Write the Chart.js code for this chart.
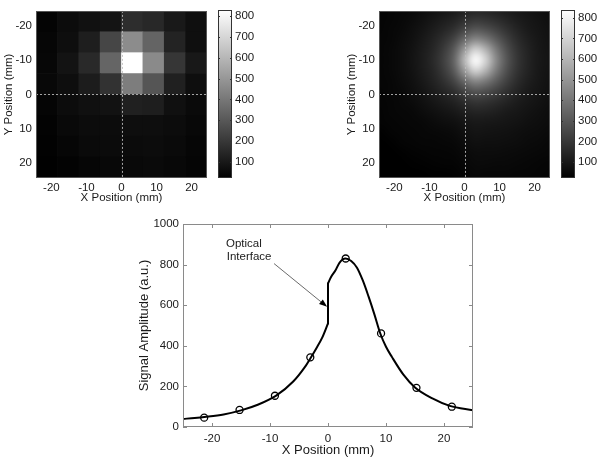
<!DOCTYPE html>
<html lang="en">
<head>
<meta charset="UTF-8">
<title>Signal amplitude maps</title>
<script src="https://cdn.jsdelivr.net/npm/chart.js"></script>
<style>
  body { margin: 0; background: #fff; }
  #wrap { position: relative; width: 600px; height: 460px; overflow: hidden; }
  canvas { position: absolute; }
</style>
</head>
<body>
<div id="wrap">
  <canvas id="mapA" width="212" height="206" style="left:0;top:0"></canvas>
  <canvas id="barA" width="50" height="206" style="left:210px;top:0"></canvas>
  <canvas id="mapB" width="212" height="206" style="left:343px;top:0"></canvas>
  <canvas id="barB" width="47" height="206" style="left:553px;top:0"></canvas>
  <canvas id="profile" width="380" height="248" style="left:100px;top:212px"></canvas>
</div>
<script>
// ---- data ----
// measured 8x8 map (left), rows top->bottom, cells centred on cellCentres (mm)
const cellCentres = [-21.35, -15.25, -9.15, -3.05, 3.05, 9.15, 15.25, 21.35];
const cellHalf = 3.05;
const measured = [
  [36, 61, 77, 86, 165, 150, 102, 70],
  [42, 67, 118, 245, 466, 340, 134, 70],
  [46, 84, 154, 343, 830, 461, 193, 100],
  [48, 67, 112, 181, 419, 292, 124, 67],
  [39, 61, 74, 80, 124, 118, 74, 55],
  [33, 52, 61, 61, 67, 67, 61, 48],
  [29, 42, 55, 58, 58, 61, 55, 42],
  [26, 33, 42, 48, 52, 55, 48, 39]
];
const profileRow = 2; // the row plotted as circles below

// model map (right), sampled every 3 mm
const modelX = [-24, -21, -18, -15, -12, -9, -6, -3, 0, 3, 6, 9, 12, 15, 18, 21, 24];
const modelY = [-25, -22, -19, -16, -13, -10, -7, -4, -1, 2, 5, 8, 11, 14, 17, 20, 23, 26];
const model = [
  [36, 40, 43, 49, 60, 73, 86, 99, 121, 137, 133, 122, 106, 94, 84, 74, 65],
  [38, 42, 47, 58, 73, 91, 112, 130, 165, 194, 185, 163, 137, 112, 94, 82, 71],
  [39, 44, 52, 66, 86, 112, 141, 176, 243, 296, 276, 230, 178, 137, 106, 89, 77],
  [40, 45, 57, 74, 99, 130, 176, 242, 364, 462, 417, 320, 230, 163, 122, 95, 81],
  [41, 47, 60, 80, 109, 144, 209, 311, 518, 705, 600, 417, 276, 185, 133, 100, 84],
  [42, 47, 61, 82, 112, 152, 224, 342, 612, 835, 705, 462, 296, 194, 137, 101, 85],
  [41, 47, 60, 80, 109, 144, 209, 311, 518, 705, 600, 417, 276, 185, 133, 100, 84],
  [40, 45, 57, 74, 99, 130, 176, 242, 364, 462, 417, 320, 230, 163, 122, 95, 81],
  [39, 44, 52, 66, 86, 112, 141, 176, 243, 296, 276, 230, 178, 137, 106, 89, 77],
  [38, 42, 47, 58, 73, 91, 112, 130, 165, 194, 185, 163, 137, 112, 94, 82, 71],
  [36, 40, 43, 49, 60, 73, 86, 99, 121, 137, 133, 122, 106, 94, 84, 74, 65],
  [34, 37, 40, 44, 49, 58, 66, 74, 90, 101, 100, 95, 89, 82, 74, 66, 59],
  [24, 34, 37, 40, 43, 47, 52, 57, 72, 85, 84, 81, 77, 71, 65, 59, 54],
  [23, 25, 34, 37, 40, 42, 44, 46, 59, 72, 71, 69, 66, 62, 57, 53, 48],
  [22, 23, 24, 33, 36, 38, 39, 40, 51, 61, 60, 59, 57, 54, 51, 47, 44],
  [22, 22, 23, 24, 28, 33, 35, 36, 45, 53, 53, 51, 50, 48, 45, 42, 39],
  [22, 22, 22, 23, 23, 24, 25, 28, 38, 46, 45, 45, 43, 42, 40, 38, 36],
  [22, 22, 22, 22, 22, 22, 23, 23, 35, 40, 40, 39, 38, 37, 36, 34, 32]
];

// model profile (bottom), split at the optical interface x = 0
const leftX = [-25, -23, -21, -18, -15, -12, -9, -6, -4, -3, -2, -1, 0];
const leftAmp = [40, 44, 50, 62, 82, 111, 153, 224, 295, 340, 388, 440, 510];
const rightX = [0, 0.5, 1.3, 2, 3, 4, 5, 6, 7, 8, 9, 10, 11, 13, 15, 18, 21, 25];
const rightAmp = [707, 738, 772, 810, 830, 818, 785, 722, 642, 555, 462, 395, 346, 258, 195, 141, 104, 82];

// axes
const posLimit = 24.4;
const posTicks = [-20, -10, 0, 10, 20];
const rangeA = [23, 830];
const rangeB = [22, 838];
const barTicks = [100, 200, 300, 400, 500, 600, 700, 800];
const profXRange = [-25, 25];
const ampTicks = [0, 200, 400, 600, 800, 1000];

const noteLines = ['Optical', 'Interface'];
const noteAt = [[-14.5, 902], [-13.6, 836]];
const arrowFrom = [-9.3, 805];
const arrowTo = [-0.15, 592];

// ---- helpers ----
Chart.defaults.font.family = '"Liberation Sans", Arial, Helvetica, sans-serif';
Chart.defaults.color = '#1a1a1a';
Chart.defaults.animation = false;
Chart.defaults.plugins.legend.display = false;
Chart.defaults.plugins.tooltip.enabled = false;

const plainLabel = v => String(v);
const noGrid = { display: false, drawTicks: false };

function greyLevel(v, lo, hi) {
  return Math.round(255 * Math.min(1, Math.max(0, (v - lo) / (hi - lo))));
}
function grey(v, lo, hi) {
  const g = greyLevel(v, lo, hi);
  return `rgb(${g},${g},${g})`;
}
function fixedTicks(values) {
  return scale => { scale.ticks = values.map(v => ({ value: v })); };
}

// box round the plot, inward ticks, dotted zero lines
const framePlugin = {
  id: 'frame',
  afterDatasetsDraw(chart, args, o) {
    const { ctx, chartArea: a, scales } = chart;
    ctx.save();
    ctx.lineWidth = 1;
    if (o.zero) {
      ctx.strokeStyle = o.zero;
      ctx.setLineDash([2, 2]);
      const px = Math.round(scales.x.getPixelForValue(0)) + 0.5;
      const py = Math.round(scales.y.getPixelForValue(0)) + 0.5;
      ctx.beginPath();
      ctx.moveTo(px, a.top); ctx.lineTo(px, a.bottom);
      ctx.moveTo(a.left, py); ctx.lineTo(a.right, py);
      ctx.stroke();
      ctx.setLineDash([]);
    }
    ctx.strokeStyle = o.color || '#000';
    if (o.tick) {
      ctx.beginPath();
      (o.tickAxes || ['x', 'y']).forEach(id => {
        const s = scales[id];
        s.ticks.forEach(t => {
          const p = Math.round(s.getPixelForValue(t.value)) + 0.5;
          if (id === 'x') {
            ctx.moveTo(p, a.bottom); ctx.lineTo(p, a.bottom - o.tick);
            ctx.moveTo(p, a.top); ctx.lineTo(p, a.top + o.tick);
          } else {
            ctx.moveTo(a.left, p); ctx.lineTo(a.left + o.tick, p);
            ctx.moveTo(a.right, p); ctx.lineTo(a.right - o.tick, p);
          }
        });
      });
      ctx.stroke();
    }
    ctx.strokeRect(Math.round(a.left) + 0.5, Math.round(a.top) + 0.5,
      Math.round(a.width) - 1, Math.round(a.height) - 1);
    ctx.restore();
  }
};

// smooth grey image of the model map, placed through the scales
const fieldPlugin = {
  id: 'field',
  beforeDatasetsDraw(chart) {
    const { ctx, chartArea: a, scales: { x, y } } = chart;
    const nx = modelX.length, ny = modelY.length;
    const off = document.createElement('canvas');
    off.width = nx; off.height = ny;
    const oc = off.getContext('2d');
    const img = oc.createImageData(nx, ny);
    model.forEach((row, j) => row.forEach((v, i) => {
      const g = greyLevel(v, rangeB[0], rangeB[1]);
      const k = (j * nx + i) * 4;
      img.data[k] = img.data[k + 1] = img.data[k + 2] = g;
      img.data[k + 3] = 255;
    }));
    oc.putImageData(img, 0, 0);
    const hx = (modelX[1] - modelX[0]) / 2, hy = (modelY[1] - modelY[0]) / 2;
    const x0 = x.getPixelForValue(modelX[0] - hx), x1 = x.getPixelForValue(modelX[nx - 1] + hx);
    const y0 = y.getPixelForValue(modelY[0] - hy), y1 = y.getPixelForValue(modelY[ny - 1] + hy);
    ctx.save();
    ctx.beginPath();
    ctx.rect(a.left, a.top, a.width, a.height);
    ctx.clip();
    ctx.imageSmoothingEnabled = true;
    ctx.imageSmoothingQuality = 'high';
    ctx.drawImage(off, x0, y0, x1 - x0, y1 - y0);
    ctx.restore();
  }
};

// "Optical Interface" label and arrow
const notePlugin = {
  id: 'note',
  afterDatasetsDraw(chart) {
    const { ctx, scales: { x, y } } = chart;
    ctx.save();
    ctx.font = '11.5px "Liberation Sans", Arial, sans-serif';
    ctx.fillStyle = '#1a1a1a';
    ctx.textAlign = 'center';
    ctx.textBaseline = 'middle';
    noteLines.forEach((t, i) => ctx.fillText(t, x.getPixelForValue(noteAt[i][0]), y.getPixelForValue(noteAt[i][1])));
    const ax = x.getPixelForValue(arrowFrom[0]), ay = y.getPixelForValue(arrowFrom[1]);
    const bx = x.getPixelForValue(arrowTo[0]), by = y.getPixelForValue(arrowTo[1]);
    const ang = Math.atan2(by - ay, bx - ax);
    const len = 8, w = 3;
    ctx.strokeStyle = '#444';
    ctx.lineWidth = 0.8;
    ctx.beginPath();
    ctx.moveTo(ax, ay);
    ctx.lineTo(bx - Math.cos(ang) * len, by - Math.sin(ang) * len);
    ctx.stroke();
    ctx.fillStyle = '#000';
    ctx.beginPath();
    ctx.moveTo(bx, by);
    ctx.lineTo(bx - Math.cos(ang) * len - Math.sin(ang) * w, by - Math.sin(ang) * len + Math.cos(ang) * w);
    ctx.lineTo(bx - Math.cos(ang) * len + Math.sin(ang) * w, by - Math.sin(ang) * len - Math.cos(ang) * w);
    ctx.closePath();
    ctx.fill();
    ctx.restore();
  }
};

function mapScales() {
  const tickFont = { size: 11.5 };
  return {
    x: {
      type: 'linear', min: -posLimit, max: posLimit, offset: false,
      border: { display: false }, grid: noGrid,
      ticks: { font: tickFont, padding: 3, maxRotation: 0, callback: plainLabel },
      afterBuildTicks: fixedTicks(posTicks),
      afterFit: s => { s.height = 28; },
      title: { display: true, text: 'X Position (mm)', font: tickFont, padding: { top: 0, bottom: 1 } }
    },
    y: {
      type: 'linear', reverse: true, min: -posLimit, max: posLimit,
      border: { display: false }, grid: noGrid,
      ticks: { font: tickFont, padding: 4, callback: plainLabel },
      afterBuildTicks: fixedTicks(posTicks),
      afterFit: s => { s.width = 36; },
      title: { display: true, text: 'Y Position (mm)', font: tickFont, padding: { top: 1.5, bottom: 0 } }
    }
  };
}

function colourBar(id, range, axisWidth) {
  return new Chart(id, {
    type: 'bar',
    data: {
      labels: [''],
      datasets: [{
        data: [range],
        borderWidth: 0,
        categoryPercentage: 1,
        barPercentage: 1,
        backgroundColor: c => {
          const a = c.chart.chartArea;
          if (!a) return '#000';
          const g = c.chart.ctx.createLinearGradient(0, a.bottom, 0, a.top);
          g.addColorStop(0, '#000');
          g.addColorStop(1, '#fff');
          return g;
        }
      }]
    },
    options: {
      responsive: false,
      layout: { padding: { left: 8, top: 7, bottom: 28, right: 0 } },
      scales: {
        x: { display: false },
        y: {
          position: 'right', min: range[0], max: range[1],
          border: { display: false }, grid: noGrid,
          ticks: { font: { size: 11.5 }, padding: 3, callback: plainLabel },
          afterBuildTicks: fixedTicks(barTicks),
          afterFit: s => { s.width = axisWidth; }
        }
      },
      plugins: { frame: { color: '#333', tick: 2, tickAxes: ['y'] } }
    },
    plugins: [framePlugin]
  });
}

// ---- measured map ----
const cells = [], cellColours = [];
measured.forEach((row, j) => row.forEach((v, i) => {
  cells.push({ x: cellCentres[i], y: [cellCentres[j] - cellHalf, cellCentres[j] + cellHalf] });
  cellColours.push(grey(v, rangeA[0], rangeA[1]));
}));

new Chart('mapA', {
  type: 'bar',
  data: {
    datasets: [{
      data: cells,
      backgroundColor: cellColours,
      borderWidth: 0,
      categoryPercentage: 1,
      barPercentage: 1
    }]
  },
  options: {
    responsive: false,
    layout: { padding: { left: 0, top: 7, right: 5, bottom: 0 } },
    scales: mapScales(),
    plugins: { frame: { color: '#555', zero: 'rgba(190,190,190,0.85)' } }
  },
  plugins: [framePlugin]
});
colourBar('barA', rangeA, 28);

// ---- model map ----
new Chart('mapB', {
  type: 'scatter',
  data: { datasets: [] },
  options: {
    responsive: false,
    layout: { padding: { left: 0, top: 7, right: 5, bottom: 0 } },
    scales: mapScales(),
    plugins: { frame: { color: '#555', zero: 'rgba(190,190,190,0.85)' } }
  },
  plugins: [fieldPlugin, framePlugin]
});
colourBar('barB', rangeB, 25);

// ---- profile ----
const lineStyle = {
  showLine: true, borderColor: '#000', borderWidth: 2, pointRadius: 0,
  borderCapStyle: 'round', borderJoinStyle: 'round'
};
new Chart('profile', {
  type: 'scatter',
  data: {
    datasets: [
      Object.assign({ data: leftX.map((x, i) => ({ x, y: leftAmp[i] })), cubicInterpolationMode: 'monotone' }, lineStyle),
      Object.assign({ data: [{ x: 0, y: leftAmp[leftAmp.length - 1] }, { x: 0, y: rightAmp[0] }] }, lineStyle),
      Object.assign({ data: rightX.map((x, i) => ({ x, y: rightAmp[i] })), cubicInterpolationMode: 'monotone' }, lineStyle),
      {
        data: cellCentres.map((x, i) => ({ x, y: measured[profileRow][i] })),
        showLine: false, pointRadius: 3.5, pointBorderWidth: 1.3,
        pointBorderColor: '#000', pointBackgroundColor: 'rgba(0,0,0,0)'
      }
    ]
  },
  options: {
    responsive: false,
    layout: { padding: { left: 0, top: 12, right: 7, bottom: 0 } },
    scales: {
      x: {
        type: 'linear', min: profXRange[0], max: profXRange[1],
        border: { display: false }, grid: noGrid,
        ticks: { font: { size: 11.5 }, padding: 5, maxRotation: 0, callback: plainLabel },
        afterBuildTicks: fixedTicks(posTicks),
        afterFit: s => { s.height = 33; },
        title: { display: true, text: 'X Position (mm)', font: { size: 13 }, padding: { top: 0, bottom: 2 } }
      },
      y: {
        type: 'linear', min: ampTicks[0], max: ampTicks[ampTicks.length - 1],
        border: { display: false }, grid: noGrid,
        ticks: { font: { size: 11.5 }, padding: 4, callback: plainLabel },
        afterBuildTicks: fixedTicks(ampTicks),
        afterFit: s => { s.width = 83; },
        title: { display: true, text: 'Signal Amplitude (a.u.)', font: { size: 13 }, padding: { top: 37, bottom: 0 } }
      }
    },
    plugins: { frame: { color: '#8a8a8a', tick: 4 } }
  },
  plugins: [framePlugin, notePlugin]
});
</script>
</body>
</html>
